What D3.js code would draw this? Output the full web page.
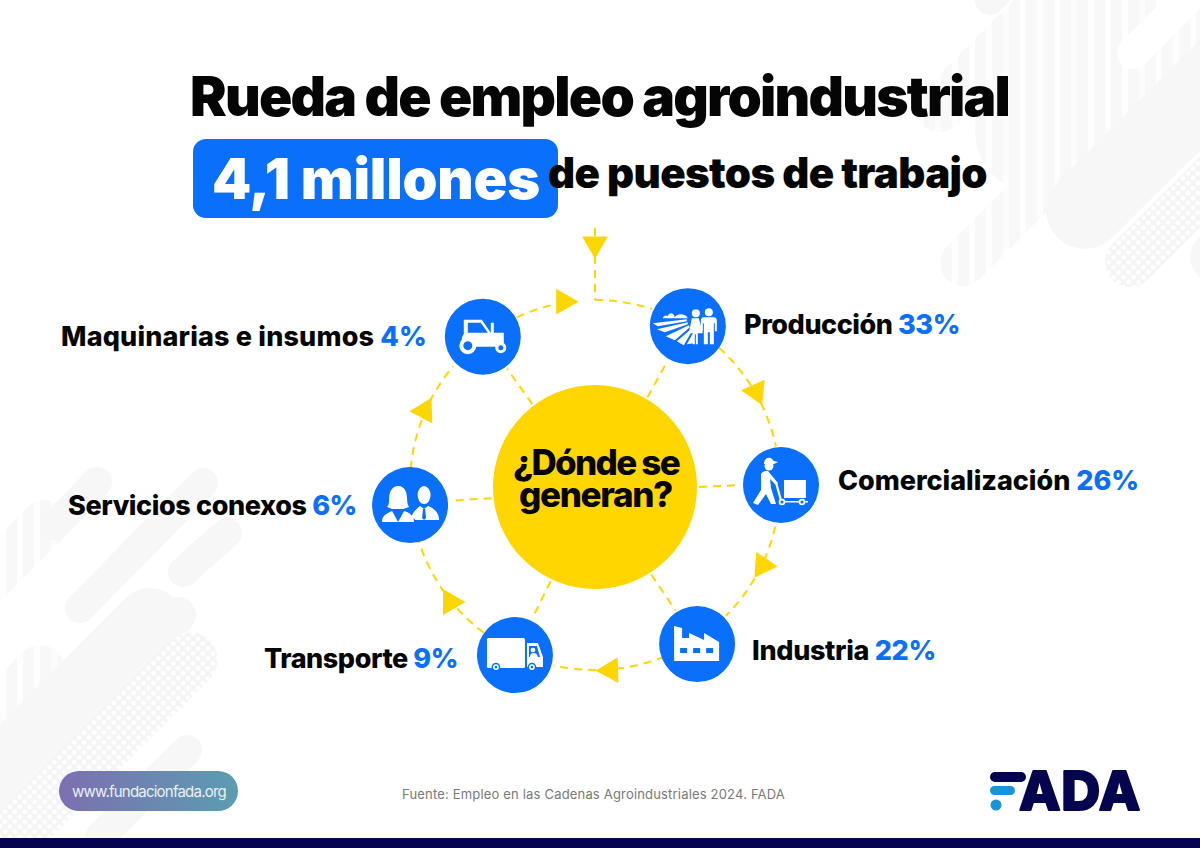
<!DOCTYPE html>
<html>
<head>
<meta charset="utf-8">
<style>
  html, body { margin: 0; padding: 0; background: #fff; }
  svg { display: block; }
  text { font-family: Inter, "Noto Sans", sans-serif; }
</style>
<script src="https://cdn.jsdelivr.net/npm/d3@7"></script>
</head>
<body>
<div id="chart"></div>
<script>
'use strict';

// chart data
var categories = ['Producción', 'Comercialización', 'Industria', 'Transporte', 'Servicios conexos', 'Maquinarias e insumos'];
var shares = [33, 26, 22, 9, 6, 4];
var iconNames = ['field', 'cart', 'factory', 'truck', 'people', 'tractor'];

// wheel layout, degrees clockwise from the top
var nodeAngles = [30.3, 90, 147.3, 205.2, 263.8, 322.9];
var nodeRadii = [184, 186, 189, 188, 186, 186];
var arrowAngles = [350.3, 59.9, 115.6, 175.2, 231, 293.5];
var arrowTurns = [0, 186, 4, 178, 0, 178];
var ringSegments = [[0, 18], [42, 78], [103, 135], [158, 193], [217, 252], [275, 310], [335, 348]];

// label boxes: x, baseline, width
var labelX = [744, 838, 752, 264, 68, 61];
var labelY = [334, 490, 660, 668, 515, 346];
var labelW = [216, 301, 184, 194, 289, 366];

var BLUE = '#0a6ffb', YELLOW = '#ffd600', NAVY = '#05054f', BG = '#f7f7f7';
var cx = 595, cy = 485;

var svg = d3.select('#chart').append('svg').attr('width', 1200).attr('height', 848);
var defs = svg.append('defs');

var stripes = defs.append('pattern').attr('id', 'stripes').attr('patternUnits', 'userSpaceOnUse')
  .attr('width', 17).attr('height', 10);
stripes.append('rect').attr('width', 17).attr('height', 10).attr('fill', '#f8f8f8');
stripes.append('rect').attr('width', 6).attr('height', 10).attr('fill', '#fdfdfd');

var dots = defs.append('pattern').attr('id', 'dots').attr('patternUnits', 'userSpaceOnUse')
  .attr('width', 7).attr('height', 7).attr('patternTransform', 'rotate(45)');
dots.append('rect').attr('width', 7).attr('height', 7).attr('fill', '#f4f4f4');
dots.append('circle').attr('cx', 3.5).attr('cy', 3.5).attr('r', 2.5).attr('fill', '#fff');

var pill = defs.append('linearGradient').attr('id', 'pill');
pill.append('stop').attr('offset', 0).attr('stop-color', '#7d6fb2');
pill.append('stop').attr('offset', 1).attr('stop-color', '#5a9db0');

// background capsules: x1, y1, x2, y2, width, fill
var capsules = [
  [940, 108, 1090, -42, 48, 'url(#stripes)'],
  [1040, 130, 1240, -70, 130, 'url(#stripes)'],
  [963, 263, 1060, 166, 46, 'url(#stripes)'],
  [1133, 53, 1210, -24, 32, '#fff'],
  [1085, 210, 1240, 55, 78, BG],
  [1130, 262, 1240, 152, 50, 'url(#dots)'],
  [1215, 257, 1240, 232, 50, BG],
  [990, 0, 1020, -30, 30, BG],
  [45, 525, -40, 610, 50, 'url(#stripes)'],
  [-30, 740, 40, 670, 50, 'url(#stripes)'],
  [80, 550, -20, 650, 40, '#fff'],
  [203, 483, 80, 608, 30, BG],
  [97, 482, 55, 525, 30, BG],
  [227, 533, 183, 572, 30, BG],
  [178, 615, 120, 672, 36, BG],
  [150, 622, -30, 802, 68, BG],
  [190, 660, -30, 880, 55, 'url(#dots)'],
  [187, 750, 100, 837, 30, BG]
];
svg.append('g').selectAll('line').data(capsules).join('line')
  .attr('x1', function (d) { return d[0]; }).attr('y1', function (d) { return d[1]; })
  .attr('x2', function (d) { return d[2]; }).attr('y2', function (d) { return d[3]; })
  .attr('stroke-width', function (d) { return d[4]; })
  .attr('stroke', function (d) { return d[5]; })
  .attr('stroke-linecap', 'round');

// squeeze or stretch a text to the width measured on the reference
function fit(sel, width) {
  var node = sel.node();
  var n = node.textContent.length;
  var len = node.getComputedTextLength();
  sel.style('letter-spacing', ((width - len) / n) + 'px');
  return sel;
}

function title(str, x, y, size, width, fill) {
  return fit(svg.append('text').attr('x', x).attr('y', y).attr('font-size', size)
    .attr('font-weight', 900).attr('fill', fill).text(str), width);
}

title('Rueda de empleo agroindustrial', 190, 116, 55, 819, '#050505');
svg.append('rect').attr('x', 193).attr('y', 139).attr('width', 365).attr('height', 79).attr('rx', 13).attr('fill', BLUE);
title('4,1 millones', 212, 199, 56, 328, '#fff');
title('de puestos de trabajo', 548, 188, 42, 439, '#050505');

var rad = d3.scaleLinear().domain([0, 360]).range([0, 2 * Math.PI]);
function polar(deg, r) {
  var p = d3.pointRadial(rad(deg), r);
  return [cx + p[0], cy + p[1]];
}

var dashed = svg.append('g').attr('fill', 'none').attr('stroke', YELLOW)
  .attr('stroke-width', 2).attr('stroke-dasharray', '8 6');

// ring pieces between the icons
dashed.selectAll('path.ring').data(ringSegments).join('path')
  .attr('class', 'ring')
  .attr('d', function (d) {
    var p = d3.path();
    p.arc(cx, cy, 185, rad(d[0]) - Math.PI / 2, rad(d[1]) - Math.PI / 2);
    return p.toString();
  });
dashed.append('line').attr('x1', cx).attr('y1', 228).attr('x2', cx).attr('y2', 300);

// spokes
var nodes = categories.map(function (c, i) {
  return { name: c, share: shares[i], icon: iconNames[i], pos: polar(nodeAngles[i], nodeRadii[i]),
    angle: nodeAngles[i], r: nodeRadii[i], i: i };
});
dashed.selectAll('line.spoke').data(nodes).join('line')
  .attr('class', 'spoke')
  .attr('x1', function (d) { return polar(d.angle, 104)[0]; })
  .attr('y1', function (d) { return polar(d.angle, 104)[1] + 2; })
  .attr('x2', function (d) { return polar(d.angle, d.r - 40)[0]; })
  .attr('y2', function (d) { return polar(d.angle, d.r - 40)[1]; });

// arrow heads
var tri = d3.symbol().type(d3.symbolTriangle).size(290);
svg.append('g').selectAll('path').data(arrowAngles).join('path')
  .attr('d', tri())
  .attr('fill', YELLOW)
  .attr('transform', function (d, i) {
    var p = polar(d, 186);
    return 'translate(' + p + ') rotate(' + (arrowTurns[i] + 90) + ')';
  });
svg.append('path').attr('d', tri()).attr('fill', YELLOW)
  .attr('transform', 'translate(' + cx + ',244) rotate(180)');

// centre
svg.append('circle').attr('cx', cx).attr('cy', 487).attr('r', 102).attr('fill', YELLOW);
var question = svg.append('text').attr('font-size', 35).attr('font-weight', 800).attr('fill', '#050505');
fit(question.append('tspan').attr('x', 513).attr('y', 475).text('¿Dónde se'), 166);
fit(question.append('tspan').attr('x', 519).attr('y', 507).text('generan?'), 153);

// white pictograms, drawn around 0,0 of each circle
var icons = {
  tractor: function (g) {
    g.append('path').attr('fill-rule', 'evenodd')
      .attr('d', 'M-19,-17H-1L8,-4V-14H11V-4H21V10H-21V1L-19,-3ZM-15,-14V-4H5L-2,-14Z');
    g.append('circle').attr('cx', -15).attr('cy', 9).attr('r', 6.5).attr('fill', BLUE).attr('stroke', '#fff').attr('stroke-width', 4);
    g.append('circle').attr('cx', 18).attr('cy', 11).attr('r', 4).attr('fill', BLUE).attr('stroke', '#fff').attr('stroke-width', 3);
  },
  field: function (g) {
    g.append('path').attr('d', 'M-35,-3L-1,-7V-5L-30,0Z');
    g.append('path').attr('d', 'M-31,3L0,-4V-2L-23,6Z');
    g.append('path').attr('d', 'M-22,10L1,-1L2,1L-13,14Z');
    g.append('path').attr('d', 'M-11,15L3,3L4,5L-4,19Z');
    g.append('path').attr('d', 'M-1,18L5,7L6,17Z');
    g.append('path').attr('d', 'M-25,-8C-24,-11 -21,-11 -20,-10C-19,-14 -14,-14 -13,-9C-11,-13 -2,-13 0,-8Z');
    g.append('circle').attr('cx', 8).attr('cy', -13).attr('r', 4);
    g.append('path').attr('d', 'M4,-8H11L15,7H10V18H8V8H7V18H5V7H1Z');
    g.append('circle').attr('cx', 21).attr('cy', -14).attr('r', 4);
    g.append('path').attr('d', 'M16,-9H26Q29,-9 29,-5V5H27V-3H26V18H22V6H20V18H16V-3H15V5H13V-5Q13,-9 16,-9Z');
  },
  cart: function (g) {
    g.append('path').attr('d', 'M-17,-22Q-16,-28 -10,-27L-7,-24L-3,-23L-7,-21H-17Z');
    g.append('circle').attr('cx', -12).attr('cy', -19).attr('r', 4.5);
    g.append('path').attr('d', 'M-20,-11Q-17,-15 -13,-14L-3,-2L-5,0L-11,-6L-10,3L-5,19H-10L-15,9L-23,20L-28,18L-20,5Z');
    g.append('path').attr('d', 'M-6,-2L-4,-3L1,15L-1,16Z');
    g.append('rect').attr('x', 3).attr('y', -5).attr('width', 22).attr('height', 18);
    g.append('rect').attr('x', 0).attr('y', 16).attr('width', 27).attr('height', 1.5);
    g.selectAll('circle.wheel').data([1, 21]).join('circle').attr('class', 'wheel')
      .attr('cx', function (d) { return d; }).attr('cy', 17).attr('r', 2.4)
      .attr('fill', BLUE).attr('stroke', '#fff').attr('stroke-width', 1.8);
  },
  factory: function (g) {
    g.append('path').attr('d', 'M-23,-18L-15,-16V-6H-8V-11L7,-4V-11L22,-2V17H-23Z');
    g.selectAll('rect').data([-17, -4, 9]).join('rect')
      .attr('x', function (d) { return d; }).attr('y', 4).attr('width', 7).attr('height', 5).attr('fill', BLUE);
  },
  truck: function (g) {
    g.append('rect').attr('x', -28).attr('y', -17).attr('width', 38).attr('height', 30).attr('rx', 1.5);
    g.append('path').attr('fill-rule', 'evenodd')
      .attr('d', 'M12,-12H23L28,2V12H12ZM14,-9V2H25L22,-9Z');
    g.append('circle').attr('cx', 18).attr('cy', -5).attr('r', 2.4);
    g.append('path').attr('d', 'M15,2Q15,-2 19,-2Q22,-2 23,2Z');
    g.selectAll('circle.wheel').data([-19, 17]).join('circle').attr('class', 'wheel')
      .attr('cx', function (d) { return d; }).attr('cy', 12).attr('r', 3.6)
      .attr('fill', '#fff').attr('stroke', BLUE).attr('stroke-width', 1.4);
    g.selectAll('circle.hub').data([-19, 17]).join('circle').attr('class', 'hub')
      .attr('cx', function (d) { return d; }).attr('cy', 12).attr('r', 1.3).attr('fill', BLUE);
  },
  people: function (g) {
    g.append('path').attr('d', 'M-12,-19C-5,-19 -3,-12 -3,-6C-3,-2 -2,1 -1,2L-7,4H-18L-23,2C-21,0 -21,-4 -21,-7C-21,-13 -18,-19 -12,-19Z');
    g.append('path').attr('d', 'M-28,17C-28,11 -25,9 -18,6L-12,17L-6,6C0,8 3,10 4,17Z');
    g.append('ellipse').attr('cx', 14).attr('cy', -10).attr('rx', 6.5).attr('ry', 9);
    g.append('path').attr('d', 'M1,13C2,8 5,5 10,1L14,4L18,1C25,4 29,8 29,15H5C5,14 3,13 1,13Z');
    g.append('path').attr('d', 'M13,4H15L16,13L14,15L12,13Z').attr('fill', BLUE);
  }
};

var node = svg.append('g').selectAll('g').data(nodes).join('g')
  .attr('transform', function (d) { return 'translate(' + d.pos + ')'; });
node.append('circle').attr('r', 38).attr('fill', BLUE);
node.append('g').attr('fill', '#fff').each(function (d) { icons[d.icon](d3.select(this)); });

// labels
svg.append('g').selectAll('text').data(nodes).join('text')
  .attr('x', function (d) { return labelX[d.i]; })
  .attr('y', function (d) { return labelY[d.i]; })
  .attr('font-size', 27).attr('font-weight', 800).attr('fill', '#050505')
  .each(function (d) {
    var t = d3.select(this);
    t.append('tspan').text(d.name + ' ');
    t.append('tspan').attr('fill', BLUE).text(d.share + '%');
    fit(t, labelW[d.i]);
  });

// footer
svg.append('rect').attr('x', 59).attr('y', 771).attr('width', 179).attr('height', 40).attr('rx', 20).attr('fill', 'url(#pill)');
fit(svg.append('text').attr('x', 72).attr('y', 797).attr('font-size', 15).attr('fill', '#eeeef5').text('www.fundacionfada.org'), 154);
fit(svg.append('text').attr('x', 402).attr('y', 799).attr('font-size', 13).attr('fill', '#7a7a7a')
  .text('Fuente: Empleo en las Cadenas Agroindustriales 2024. FADA'), 383);

// logo
svg.append('rect').attr('x', 990).attr('y', 772).attr('width', 36).attr('height', 10).attr('rx', 5).attr('fill', NAVY);
svg.append('rect').attr('x', 990).attr('y', 786).attr('width', 25).attr('height', 9).attr('rx', 4.5).attr('fill', '#1b93d9');
svg.append('circle').attr('cx', 996).attr('cy', 805).attr('r', 5.5).attr('fill', '#1b93d9');
fit(svg.append('text').attr('x', 1019).attr('y', 810).attr('font-size', 54).attr('font-weight', 800)
  .attr('fill', NAVY).attr('stroke', NAVY).attr('stroke-width', 2).attr('stroke-linejoin', 'round').text('ADA'), 122);

svg.append('rect').attr('x', 0).attr('y', 838).attr('width', 1200).attr('height', 10).attr('fill', NAVY);
</script>
</body>
</html>
